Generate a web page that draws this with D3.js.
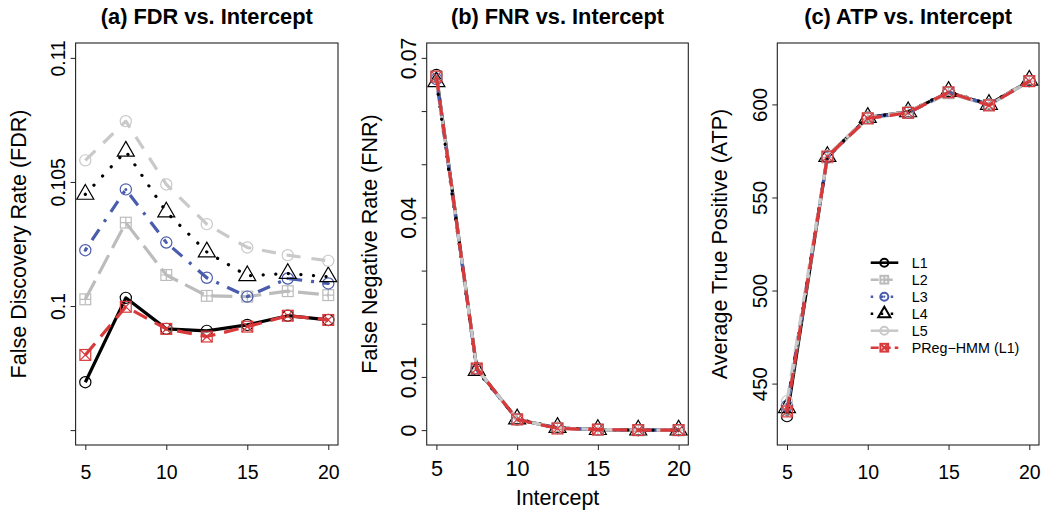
<!DOCTYPE html>
<html>
<head>
<meta charset="utf-8">
<script src="https://cdn.jsdelivr.net/npm/d3@7"></script>
<style>
  html, body { margin: 0; padding: 0; background: #fff; }
  svg { display: block; font-family: "Liberation Sans", Arial, Helvetica, sans-serif; }
</style>
</head>
<body>
<svg id="chart" width="1044" height="515"></svg>
<script>
// ---------------- DATA ----------------
const intercepts = [5, 7.5, 10, 12.5, 15, 17.5, 20];
const xTicks = [5, 10, 15, 20];
const seriesNames = ["L1", "L2", "L3", "L4", "L5", "PReg\u2212HMM (L1)"];

// (a) False Discovery Rate
const fdrL1   = [0.09693, 0.10033, 0.09908, 0.09900, 0.09924, 0.09961, 0.09944];
const fdrL2   = [0.10027, 0.10336, 0.10125, 0.10041, 0.10038, 0.10060, 0.10044];
const fdrL3   = [0.10225, 0.10470, 0.10256, 0.10114, 0.10038, 0.10111, 0.10091];
const fdrL4   = [0.10450, 0.10624, 0.10379, 0.10218, 0.10122, 0.10131, 0.10118];
const fdrL5   = [0.10587, 0.10745, 0.10490, 0.10330, 0.10236, 0.10205, 0.10182];
const fdrPReg = [0.09803, 0.09997, 0.09908, 0.09877, 0.09917, 0.09961, 0.09944];

// (b) False Negative Rate
const fnrL1   = [0.0668, 0.0116, 0.0020, 0.0004, 0.0001, 0.0000, 0.0000];
const fnrL2   = [0.0664, 0.0115, 0.0021, 0.0004, 0.0001, 0.0000, 0.0000];
const fnrL3   = [0.0660, 0.0114, 0.0020, 0.0004, 0.0001, 0.0000, 0.0000];
const fnrL4   = [0.0655, 0.0112, 0.0021, 0.0005, 0.0001, 0.0000, 0.0000];
const fnrL5   = [0.0665, 0.0116, 0.0020, 0.0004, 0.0001, 0.0000, 0.0000];
const fnrPReg = [0.0665, 0.0116, 0.0020, 0.0003, 0.0001, 0.0000, 0.0000];

// (c) Average True Positive
const atpL1   = [432.5, 572.0, 593.0, 596.0, 606.5, 600.0, 612.5];
const atpL2   = [436.0, 571.5, 592.5, 595.5, 606.0, 599.5, 612.5];
const atpL3   = [438.0, 571.5, 593.0, 595.5, 606.5, 600.0, 612.5];
const atpL4   = [437.0, 572.0, 593.0, 596.0, 607.0, 600.0, 613.0];
const atpL5   = [440.5, 572.5, 593.0, 596.0, 606.5, 600.0, 612.5];
const atpPReg = [435.0, 572.0, 592.5, 595.5, 606.5, 599.5, 612.5];

// axis ticks / labels
const fdrTicks = [0.095, 0.1, 0.105, 0.11];
const fdrTickLabels = ["", "0.1", "0.105", "0.11"];
const fnrTicks = [0, 0.01, 0.02, 0.03, 0.04, 0.05, 0.06, 0.07];
const fnrTickLabels = ["0", "0.01", "", "", "0.04", "", "", "0.07"];
const atpTicks = [450, 500, 550, 600];
const atpTickLabels = ["450", "500", "550", "600"];

const titles = ["(a) FDR vs. Intercept", "(b) FNR vs. Intercept", "(c) ATP vs. Intercept"];
const yTitles = ["False Discovery Rate (FDR)", "False Negative Rate (FNR)", "Average True Positive (ATP)"];
const xTitle = "Intercept";

// ---------------- STYLES ----------------
const styles = [
  {color: "#000000", dash: null,            marker: "circle"},
  {color: "#bcbcbc", dash: "21,8",          marker: "squarePlus"},
  {color: "#4a5cad", dash: "3,9,13,9",      marker: "circleDot"},
  {color: "#000000", dash: "0.1,12.5",      marker: "triangle", cap: "round"},
  {color: "#c9c9c9", dash: "14,11",         marker: "circle"},
  {color: "#d8393b", dash: "15,9",          marker: "squareX"}
];
const drawOrder = [0, 1, 2, 3, 4, 5];

const svg = d3.select("#chart");
const plotTop = 43, plotBottom = 445;

const panels = [
  {x0: 75.6, x1: 338.0, ylim: [0.095, 0.11], ticks: fdrTicks, tickLabels: fdrTickLabels,
   data: [fdrL1, fdrL2, fdrL3, fdrL4, fdrL5, fdrPReg], tickFont: 19.3, xTickFont: 19.5, xLabelBase: 479,
   yTitleBase: 26},
  {x0: 426.7, x1: 688.3, ylim: [0, 0.07], ticks: fnrTicks, tickLabels: fnrTickLabels,
   data: [fnrL1, fnrL2, fnrL3, fnrL4, fnrL5, fnrPReg], tickFont: 21.4, xTickFont: 21.6, xLabelBase: 476,
   yTitleBase: 377},
  {x0: 777.3, x1: 1039.0, ylim: [425, 625], ticks: atpTicks, tickLabels: atpTickLabels,
   data: [atpL1, atpL2, atpL3, atpL4, atpL5, atpPReg], tickFont: 20.5, xTickFont: 19.5, xLabelBase: 479,
   yTitleBase: 727}
];

function drawMarker(g, type, cx, cy, color, s, sw) {
  s = s || 1; sw = sw || 1.2;
  if (type === "circle" || type === "circleDot") {
    g.append("circle").attr("cx", cx).attr("cy", cy).attr("r", 5.6 * s)
      .attr("fill", "none").attr("stroke", color).attr("stroke-width", sw);
    if (type === "circleDot") {
      g.append("circle").attr("cx", cx).attr("cy", cy).attr("r", 1.5 * s).attr("fill", color);
    }
  } else if (type === "squarePlus" || type === "squareX") {
    const h = 5.4 * s;
    g.append("rect").attr("x", cx - h).attr("y", cy - h).attr("width", 2 * h).attr("height", 2 * h)
      .attr("fill", "none").attr("stroke", color).attr("stroke-width", sw);
    const p = type === "squarePlus"
      ? `M${cx - h},${cy}L${cx + h},${cy}M${cx},${cy - h}L${cx},${cy + h}`
      : `M${cx - h},${cy - h}L${cx + h},${cy + h}M${cx - h},${cy + h}L${cx + h},${cy - h}`;
    g.append("path").attr("d", p).attr("fill", "none").attr("stroke", color).attr("stroke-width", sw);
  } else if (type === "triangle") {
    const k = 6.3 * s;
    const r = 1.555 * k, hh = 1.347 * k, yc = 0.778 * k;
    g.append("path").attr("d", `M${cx},${cy - r}L${cx + hh},${cy + yc}L${cx - hh},${cy + yc}Z`)
      .attr("fill", "none").attr("stroke", color).attr("stroke-width", sw);
  }
}

panels.forEach((p, pi) => {
  const pad = (p.ylim[1] - p.ylim[0]) * 0.04;
  const x = d3.scaleLinear().domain([4.4, 20.6]).range([p.x0, p.x1]);
  const y = d3.scaleLinear().domain([p.ylim[0] - pad, p.ylim[1] + pad]).range([plotBottom, plotTop]);
  const g = svg.append("g");

  // lines + markers
  drawOrder.forEach(si => {
    const st = styles[si];
    const vals = p.data[si];
    const pts = intercepts.map((xv, i) => [x(xv), y(vals[i])]);
    const line = d3.line();
    g.append("path").attr("d", line(pts)).attr("fill", "none")
      .attr("stroke", st.color).attr("stroke-width", 3.2)
      .attr("stroke-dasharray", st.dash)
      .attr("stroke-linecap", st.cap || "butt")
      .attr("stroke-linejoin", "round");
    pts.forEach(pt => drawMarker(g, st.marker, pt[0], pt[1], st.color));
  });

  // box
  g.append("rect").attr("x", p.x0).attr("y", plotTop).attr("width", p.x1 - p.x0).attr("height", plotBottom - plotTop)
    .attr("fill", "none").attr("stroke", "#222").attr("stroke-width", 1.1);

  // x axis
  const xa = g.append("g").attr("transform", `translate(0,${plotBottom})`)
    .call(d3.axisBottom(x).tickValues(xTicks).tickSize(5).tickFormat(d3.format("d")));
  xa.select(".domain").remove();
  xa.selectAll(".tick line").attr("stroke", "#222");
  xa.selectAll("text").attr("y", p.xLabelBase - plotBottom).attr("dy", 0)
    .attr("font-size", p.xTickFont).attr("font-family", "Liberation Sans, Arial, sans-serif").attr("fill", "#000");

  // y axis
  const ya = g.append("g").attr("transform", `translate(${p.x0},0)`)
    .call(d3.axisLeft(y).tickValues(p.ticks).tickSize(5).tickFormat((d, i) => p.tickLabels[i]));
  ya.select(".domain").remove();
  ya.selectAll(".tick line").attr("stroke", "#222");
  ya.selectAll("text").attr("x", 0).attr("dy", 0).attr("text-anchor", "middle")
    .attr("transform", "translate(-10.5,0) rotate(-90)")
    .attr("font-size", p.tickFont).attr("font-family", "Liberation Sans, Arial, sans-serif").attr("fill", "#000");

  // title
  svg.append("text").attr("x", (p.x0 + p.x1) / 2).attr("y", 24).attr("text-anchor", "middle")
    .attr("font-size", 21.8).attr("font-weight", "bold").text(titles[pi]);

  // y title
  svg.append("text").attr("text-anchor", "middle")
    .attr("transform", `translate(${p.yTitleBase},${(plotTop + plotBottom) / 2}) rotate(-90)`)
    .attr("font-size", 21.5).text(yTitles[pi]);

  // legend in panel (c)
  if (pi === 2) {
    const lg = svg.append("g");
    const legDash = [null, "8,6", "2.5,7.5", "2.5,7.5", null, "8,4"];
    seriesNames.forEach((name, i) => {
      const st = styles[i];
      const cy = 262.7 + i * 17;
      lg.append("line").attr("x1", 870.7).attr("x2", 898.3).attr("y1", cy).attr("y2", cy)
        .attr("stroke", st.color).attr("stroke-width", 2.6)
        .attr("stroke-dasharray", legDash[i]);
      drawMarker(lg, st.marker, 884.3, cy, st.color, 0.72, 2);
      lg.append("text").attr("x", 911.7).attr("y", cy + 5.2).attr("font-size", 14.3).text(name);
    });
  }
});

// shared x title
svg.append("text").attr("x", 557.5).attr("y", 505).attr("text-anchor", "middle")
  .attr("font-size", 21.5).text(xTitle);
</script>
</body>
</html>
